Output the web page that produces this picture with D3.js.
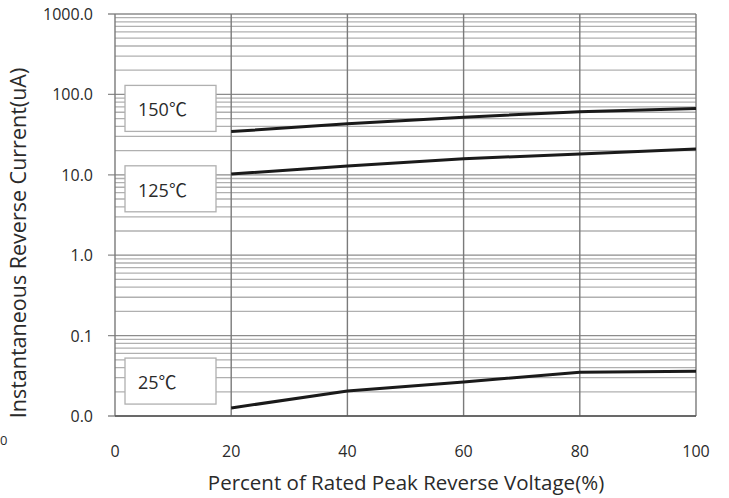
<!DOCTYPE html>
<html>
<head>
<meta charset="utf-8">
<script src="https://cdn.jsdelivr.net/npm/d3@7"></script>
<style>
  body { margin: 0; background: #fff; }
  text { font-family: "Open Sans", "Liberation Sans", sans-serif; fill: #2a2a2a; }
</style>
</head>
<body>
<div id="dataviz"></div>
<script>
"use strict";

// Data
var voltagePct = [20, 40, 60, 80, 100];
var current150 = [34.5, 43, 52, 61, 67];
var current125 = [10.2, 12.9, 15.8, 18.2, 21];
var current25 = [0.0126, 0.0204, 0.0265, 0.035, 0.036];
var seriesLabels = ["150", "125", "25"];
var xTicks = [0, 20, 40, 60, 80, 100];
var yTicks = [0.01, 0.1, 1, 10, 100, 1000];
var yTickLabels = ["0.0", "0.1", "1.0", "10.0", "100.0", "1000.0"];

var margin = { top: 14, right: 33, bottom: 82, left: 115 };
var width = 729 - margin.left - margin.right;
var height = 498 - margin.top - margin.bottom;

var svg = d3.select("#dataviz").append("svg")
    .attr("width", 729)
    .attr("height", 498);

var g = svg.append("g")
    .attr("transform", "translate(" + margin.left + "," + margin.top + ")");

var xScale = d3.scaleLinear().domain([0, 100]).range([0, width]);
var yScale = d3.scaleLog().domain([0.01, 1000]).range([height, 0]);

// minor horizontal grid (2..9 in each decade)
var minorVals = [];
yTicks.slice(0, -1).forEach(function (d) {
    for (var k = 2; k <= 9; k++) minorVals.push(d * k);
});

g.selectAll("line.minor")
    .data(minorVals)
    .enter().append("line")
    .attr("class", "minor")
    .attr("x1", 0).attr("x2", width)
    .attr("y1", function (d) { return yScale(d); })
    .attr("y2", function (d) { return yScale(d); })
    .attr("stroke", "#b0b0b0")
    .attr("stroke-width", 1.3);

// decade lines
g.selectAll("line.major")
    .data(yTicks)
    .enter().append("line")
    .attr("class", "major")
    .attr("x1", -7).attr("x2", width)
    .attr("y1", function (d) { return yScale(d); })
    .attr("y2", function (d) { return yScale(d); })
    .attr("stroke", "#8c8c8c")
    .attr("stroke-width", 1.3);

// vertical grid
g.selectAll("line.vgrid")
    .data(xTicks)
    .enter().append("line")
    .attr("class", "vgrid")
    .attr("x1", function (d) { return xScale(d); })
    .attr("x2", function (d) { return xScale(d); })
    .attr("y1", 0).attr("y2", height)
    .attr("stroke", "#7a7a7a")
    .attr("stroke-width", 1.4);

// bottom axis line
g.append("line")
    .attr("x1", 0).attr("x2", width)
    .attr("y1", height).attr("y2", height)
    .attr("stroke", "#555")
    .attr("stroke-width", 1.5);

// tick labels
g.selectAll("text.ylab")
    .data(yTicks)
    .enter().append("text")
    .attr("class", "ylab")
    .attr("x", -22)
    .attr("y", function (d) { return yScale(d) + 6; })
    .attr("text-anchor", "end")
    .style("font-size", "16px")
    .text(function (d, i) { return yTickLabels[i]; });

g.selectAll("text.xlab")
    .data(xTicks)
    .enter().append("text")
    .attr("class", "xlab")
    .attr("x", function (d) { return xScale(d); })
    .attr("y", height + 41)
    .attr("text-anchor", "middle")
    .style("font-size", "16px")
    .text(function (d) { return d; });

// stray label at far left edge
svg.append("text")
    .attr("x", 0).attr("y", 445)
    .style("font-size", "13px")
    .text("0");

// axis titles
svg.append("text")
    .attr("transform", "translate(" + 26 + "," + 243 + ")rotate(-90)")
    .attr("text-anchor", "middle")
    .style("font-size", "21.5px")
    .text("Instantaneous Reverse Current(uA)");

svg.append("text")
    .attr("x", 406).attr("y", 490)
    .attr("text-anchor", "middle")
    .style("font-size", "20.5px")
    .text("Percent of Rated Peak Reverse Voltage(%)");

// curves
var line = d3.line()
    .x(function (d) { return xScale(d[0]); })
    .y(function (d) { return yScale(d[1]); });

[current150, current125, current25].forEach(function (vals) {
    var pts = voltagePct.map(function (v, i) { return [v, vals[i]]; });
    g.append("path")
        .datum(pts)
        .attr("d", line)
        .attr("fill", "none")
        .attr("stroke", "#1a1a1a")
        .attr("stroke-width", 3);
});

// label boxes
var boxTops = [100, 10, 0.0406];
var boxes = g.selectAll("g.lbl")
    .data(seriesLabels)
    .enter().append("g")
    .attr("class", "lbl")
    .attr("transform", function (d, i) {
        return "translate(" + 10 + "," + (yScale(boxTops[i]) - 9) + ")";
    });

boxes.append("rect")
    .attr("width", 91).attr("height", 46)
    .attr("fill", "#fff")
    .attr("stroke", "#b0b0b0")
    .attr("stroke-width", 1.3);

var lblText = boxes.append("text")
    .attr("x", 13).attr("y", 31)
    .style("font-size", "18px");
lblText.append("tspan").text(function (d) { return d; });
lblText.append("tspan")
    .style("font-family", "'Noto Sans CJK SC', sans-serif")
    .text("\u2103");
</script>
</body>
</html>
